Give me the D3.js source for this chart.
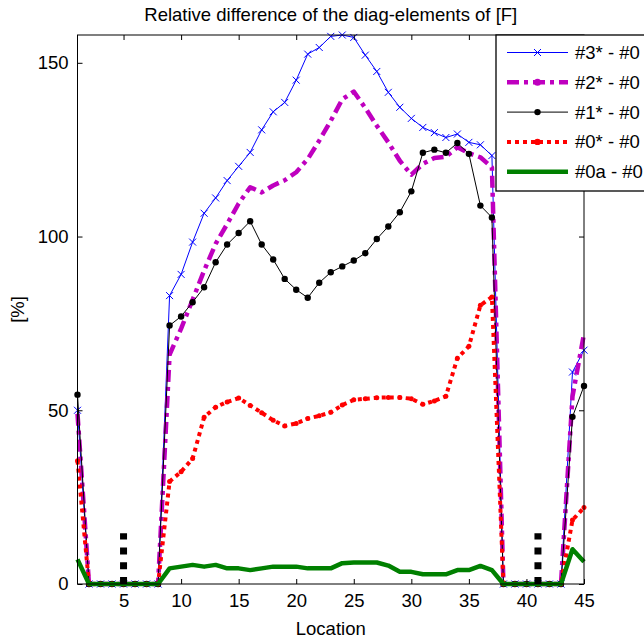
<!DOCTYPE html>
<html><head><meta charset="utf-8">
<script src="https://cdn.jsdelivr.net/npm/d3@7"></script>
<style>
html,body{margin:0;padding:0;background:#fff;}
svg{display:block;font-family:"Liberation Sans",Arial,sans-serif;}
</style></head>
<body>
<svg id="chart" width="644" height="640"></svg>
<script>
const locations = [1,2,3,4,5,6,7,8,9,10,11,12,13,14,15,16,17,18,19,20,21,22,23,24,25,26,27,28,29,30,31,32,33,34,35,36,37,38,39,40,41,42,43,44,45];
const s3 = [50,0,0,0,0,0,0,0,83.0,89.1,98.4,106.7,111.1,116.1,120.2,124.2,130.7,135.9,138.6,145.0,152.5,154.4,157.6,158.0,157.3,152.2,147.5,141.5,137.2,134.0,131.4,129.9,128.5,129.5,127.1,126.4,123.3,0,0,0,0,0,0,61.0,67.3];
const s2 = [49,0,0,0,0,0,0,0,66,73.5,81.8,90.2,97.9,103.6,109.5,114.2,112.7,114.7,116.2,118.5,122.3,127.6,133.3,139.5,141.7,137,131.9,127.1,121.8,117.8,120.9,122.6,123,125.7,124,122.8,119.9,0,0,0,0,0,0,54,72];
const s1 = [54.5,0,0,0,0,0,0,0,74.4,77.0,81.1,85.4,92.6,97.7,101.0,104.4,97.7,93.4,87.8,84.7,82.4,86.7,89.7,91.4,93.1,95.2,99.3,102.9,107.0,113.0,124.1,125.0,124.1,126.9,123.8,108.9,105.5,0,0,0,0,0,0,48.1,57.0];
const s0 = [35.5,0,0,0,0,0,0,0,29.5,32.3,36.1,48.0,50.9,52.4,53.5,51.4,49.3,47.1,45.5,46.2,47.6,48.4,49.4,51.5,53.0,53.3,53.6,53.7,53.7,53.3,51.7,52.7,54.0,65.0,68.4,80.2,82.6,0,0,0,0,0,0,18.4,22.0];
const s0a = [7.1,0,0,0,0,0,0,0,4.5,5.0,5.5,5.0,5.5,4.5,4.5,4.0,4.5,5.0,5.0,5.0,4.5,4.5,4.5,6.0,6.2,6.2,6.2,5.3,3.5,3.5,2.8,2.8,2.8,4.0,4.0,5.2,4.0,0,0,0,0,0,0,10.0,6.4];
const seriesNames = ["#3* - #0","#2* - #0","#1* - #0","#0* - #0","#0a - #0"];
const markerLocations = [5,41];
const markerHeight = 14.6;
const xTicks = [5,10,15,20,25,30,35,40,45];
const yTicks = [0,50,100,150];
const titleText = "Relative difference of the diag-elements of [F]";
const xLabel = "Location";
const yLabel = "[%]";

const svg = d3.select("#chart");
const L = 77.5, R = 584, T = 35, B = 584;
const x = d3.scaleLinear().domain([1,45]).range([L,R]);
const y = d3.scaleLinear().domain([0,d3.max(s3)]).range([B,T]);
const FS = 18.5;

const styles = [
  {data:s3, color:"#0000ff", width:1, dash:null, marker:"x"},
  {data:s2, color:"#bf00bf", width:4.5, dash:"12,5,4,5", marker:"legenddot", r:3.5},
  {data:s1, color:"#000000", width:1, dash:null, marker:"dot", r:3.2},
  {data:s0, color:"#ff0000", width:4, dash:"4,4", marker:"dot", r:2.5},
  {data:s0a, color:"#008000", width:4.5, dash:null, marker:null}
];

const line = d3.line().x((d,i)=>x(locations[i])).y(d=>y(d));
const plot = svg.append("g");
styles.forEach(st=>{
  const p = plot.append("path").datum(st.data).attr("d",line)
    .attr("fill","none").attr("stroke",st.color).attr("stroke-width",st.width)
    .attr("stroke-linejoin","round");
  if(st.dash) p.attr("stroke-dasharray",st.dash);
  if(st.marker==="x"){
    const s=3.5;
    plot.append("g").selectAll("path").data(st.data).join("path")
      .attr("d",(d,i)=>{const cx=x(locations[i]), cy=y(d);
        return `M${cx-s},${cy-s}L${cx+s},${cy+s}M${cx-s},${cy+s}L${cx+s},${cy-s}`;})
      .attr("stroke",st.color).attr("stroke-width",1).attr("fill","none");
  } else if(st.marker==="dot"){
    plot.append("g").selectAll("circle").data(st.data).join("circle")
      .attr("cx",(d,i)=>x(locations[i])).attr("cy",d=>y(d)).attr("r",st.r)
      .attr("fill",st.color);
  }
});

// vertical dotted markers
plot.append("g").selectAll("line").data(markerLocations).join("line")
  .attr("x1",d=>x(d)).attr("x2",d=>x(d))
  .attr("y1",y(0)).attr("y2",y(markerHeight))
  .attr("stroke","#000").attr("stroke-width",7).attr("stroke-dasharray","7,7.8");

// frame
svg.append("rect").attr("x",L).attr("y",T).attr("width",R-L).attr("height",B-T)
  .attr("fill","none").attr("stroke","#000").attr("stroke-width",1);

const xAxis = svg.append("g").attr("transform",`translate(0,${B})`)
  .call(d3.axisBottom(x).tickValues(xTicks).tickSize(-5).tickPadding(10).tickFormat(d3.format("d")));
const xAxisTop = svg.append("g").attr("transform",`translate(0,${T})`)
  .call(d3.axisTop(x).tickValues(xTicks).tickSize(-5).tickFormat(""));
const yAxis = svg.append("g").attr("transform",`translate(${L},0)`)
  .call(d3.axisLeft(y).tickValues(yTicks).tickSize(-5).tickPadding(9).tickFormat(d3.format("d")));
const yAxisR = svg.append("g").attr("transform",`translate(${R},0)`)
  .call(d3.axisRight(y).tickValues(yTicks).tickSize(-5).tickFormat(""));
[xAxis,xAxisTop,yAxis,yAxisR].forEach(g=>{
  g.select(".domain").remove();
  g.selectAll(".tick line").attr("stroke","#000");
  g.selectAll("text").attr("fill","#000").style("font-size",FS+"px")
    .style("font-family","'Liberation Sans',Arial,sans-serif");
});

svg.append("text").attr("x",(L+R)/2).attr("y",21).attr("text-anchor","middle")
  .style("font-size",FS+"px").text(titleText);
svg.append("text").attr("x",(L+R)/2).attr("y",635).attr("text-anchor","middle")
  .style("font-size",FS+"px").text(xLabel);
svg.append("text").attr("transform",`translate(24,${(T+B)/2}) rotate(-90)`)
  .attr("text-anchor","middle").style("font-size",FS+"px").text(yLabel);

const lg = svg.append("g");
lg.append("rect").attr("x",496).attr("y",35).attr("width",170).attr("height",156)
  .attr("fill","#fff").attr("stroke","#000").attr("stroke-width",1.3);
styles.forEach((st,i)=>{
  const ly = 52.5 + i*29.8;
  const l = lg.append("line").attr("x1",507).attr("x2",568).attr("y1",ly).attr("y2",ly)
    .attr("stroke",st.color).attr("stroke-width",st.width);
  if(st.dash) l.attr("stroke-dasharray",st.dash);
  if(st.marker==="x"){
    const s=3.5, cx=537.5;
    lg.append("path").attr("d",`M${cx-s},${ly-s}L${cx+s},${ly+s}M${cx-s},${ly+s}L${cx+s},${ly-s}`)
      .attr("stroke",st.color).attr("stroke-width",1);
  } else if(st.marker){
    lg.append("circle").attr("cx",537.5).attr("cy",ly).attr("r",Math.max(st.r,3.2)).attr("fill",st.color);
  }
  lg.append("text").attr("x",575).attr("y",ly).attr("dy","0.35em")
    .style("font-size",FS+"px").text(seriesNames[i]);
});
</script>
</body></html>
